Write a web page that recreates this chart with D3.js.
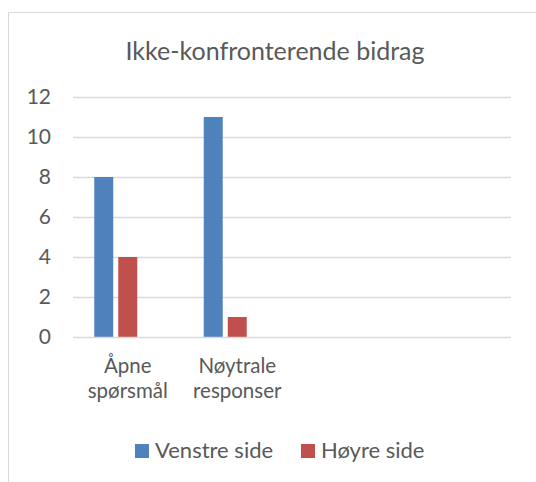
<!DOCTYPE html>
<html><head><meta charset="utf-8">
<script src="https://cdn.jsdelivr.net/npm/d3@7"></script>
<style>html,body{margin:0;padding:0;background:#fff;overflow:hidden}</style>
</head><body>
<svg id="c" width="536" height="482"></svg>
<script>
const title = "Ikke-konfronterende bidrag";
const categories = [["Åpne", "spørsmål"], ["Nøytrale", "responser"], [], []];
const seriesNames = ["Venstre side", "Høyre side"];
const venstre = [8, 11];
const hoyre = [4, 1];
const seriesValues = [venstre, hoyre];
const slots = 3; // series slots per category (third is empty)
const yTicks = [0, 2, 4, 6, 8, 10, 12];
const colors = ["#4F81BD", "#C0504D"];

const font = "Lato, 'Open Sans', sans-serif";
const txt = "#595959";
const svg = d3.select("#c");

// chart area border
svg.append("rect").attr("x", 8.5).attr("y", 12.5).attr("width", 540).attr("height", 480)
  .attr("fill", "#fff").attr("stroke", "#d9d9d9").attr("stroke-width", 1);

svg.append("text").attr("x", 275).attr("y", 60).attr("text-anchor", "middle")
  .attr("font-family", font).attr("font-size", 25).attr("fill", txt).text(title);

const plot = {l: 73, r: 511, t: 97, b: 337};
const y = d3.scaleLinear().domain([0, 12]).range([plot.b, plot.t]);
const x0 = d3.scaleBand().domain(d3.range(categories.length)).range([plot.l, plot.r]);
const x1 = d3.scaleBand().domain(d3.range(slots)).range([0, x0.bandwidth()])
  .paddingInner(0.21).paddingOuter(0.885);

// gridlines
svg.append("g").selectAll("line").data(yTicks.filter(d => d > 0)).join("line")
  .attr("x1", plot.l).attr("x2", plot.r)
  .attr("y1", d => Math.round(y(d)) + 0.5).attr("y2", d => Math.round(y(d)) + 0.5)
  .attr("stroke", "#d9d9d9").attr("stroke-width", 1.3);

// y axis labels
const ya = svg.append("g").attr("transform", `translate(${plot.l - 22},0)`)
  .call(d3.axisLeft(y).tickValues(yTicks).tickSize(0).tickPadding(0));
ya.select(".domain").remove();
ya.selectAll("text").attr("font-family", font).attr("font-size", 21).attr("fill", txt);

// bars
seriesValues.forEach((vals, si) => {
  svg.append("g").selectAll("rect").data(vals).join("rect")
    .attr("x", (d, i) => x0(i) + x1(si))
    .attr("width", x1.bandwidth())
    .attr("y", d => y(d))
    .attr("height", d => y(0) - y(d))
    .attr("fill", colors[si]);
});

// x axis line
svg.append("line").attr("x1", plot.l).attr("x2", plot.r)
  .attr("y1", plot.b + 0.5).attr("y2", plot.b + 0.5)
  .attr("stroke", "#d9d9d9").attr("stroke-width", 1.3);

// category labels
const xa = svg.append("g");
categories.forEach((lines, i) => {
  const t = xa.append("text").attr("text-anchor", "middle")
    .attr("font-family", font).attr("font-size", 20.5).attr("fill", txt);
  lines.forEach((ln, k) => {
    t.append("tspan").attr("x", x0(i) + x0.bandwidth() / 2).attr("y", 373 + k * 24.5).text(ln);
  });
});

// legend
const leg = [{x: 135, tx: 155}, {x: 301, tx: 321}];
seriesNames.forEach((n, i) => {
  svg.append("rect").attr("x", leg[i].x).attr("y", 444).attr("width", 14).attr("height", 14).attr("fill", colors[i]);
  svg.append("text").attr("x", leg[i].tx).attr("y", 458).attr("font-family", font)
    .attr("font-size", 22).attr("fill", txt).text(n);
});
</script>
</body></html>
